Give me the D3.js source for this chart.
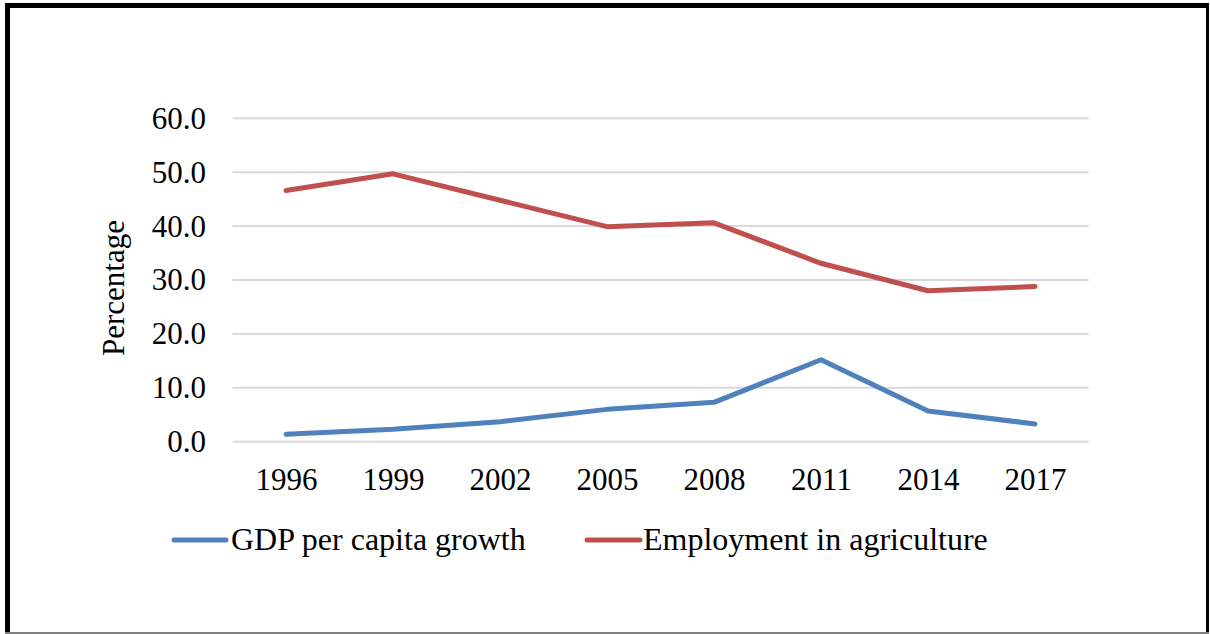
<!DOCTYPE html>
<html>
<head>
<meta charset="utf-8">
<script src="https://cdn.jsdelivr.net/npm/d3@7/dist/d3.min.js"></script>
<style>
  html, body { margin: 0; padding: 0; background: #fff; }
  svg { display: block; }
  text { font-family: "Liberation Serif", "Times New Roman", serif; fill: #000; }
</style>
</head>
<body>
<svg id="chart" width="1210" height="634"></svg>
<script>
// Survey years (x categories)
const years = ["1996", "1999", "2002", "2005", "2008", "2011", "2014", "2017"];
// GDP per capita growth (%)
const gdpGrowth = [1.4, 2.3, 3.7, 6.0, 7.3, 15.2, 5.7, 3.3];
// Employment in agriculture (% of total employment)
const agriEmployment = [46.6, 49.7, 44.8, 39.9, 40.6, 33.1, 28.0, 28.8];
// Y axis ticks
const yTicks = [0, 10, 20, 30, 40, 50, 60];
const seriesNames = ["GDP per capita growth", "Employment in agriculture"];

const series = [
  { name: seriesNames[0], values: gdpGrowth, color: "#4F81BD" },
  { name: seriesNames[1], values: agriEmployment, color: "#C0504D" }
];

const svg = d3.select("#chart");

// Frame around the chart
const frame = svg.append("g");
frame.append("line").attr("x1", 5).attr("x2", 1209).attr("y1", 5.5).attr("y2", 5.5)
  .attr("stroke", "#000").attr("stroke-width", 5);
frame.append("line").attr("x1", 7.5).attr("x2", 7.5).attr("y1", 3).attr("y2", 634)
  .attr("stroke", "#000").attr("stroke-width", 5);
frame.append("line").attr("x1", 1207.5).attr("x2", 1207.5).attr("y1", 3).attr("y2", 634)
  .attr("stroke", "#000").attr("stroke-width", 3);
frame.append("line").attr("x1", 5).attr("x2", 1209).attr("y1", 633).attr("y2", 633)
  .attr("stroke", "#808080").attr("stroke-width", 2);

const plotLeft = 232.5, plotRight = 1088.5;
const x = d3.scalePoint().domain(years).range([plotLeft, plotRight]).padding(0.5);
const y = d3.scaleLinear().domain([0, 60]).range([441.7, 118.3]);

// Horizontal gridlines
svg.append("g")
  .selectAll("line")
  .data(yTicks)
  .join("line")
  .attr("x1", plotLeft).attr("x2", plotRight)
  .attr("y1", d => y(d)).attr("y2", d => y(d))
  .attr("stroke", "#D9D9D9").attr("stroke-width", 2);

// Y axis labels
const yAxis = d3.axisLeft(y).tickValues(yTicks).tickFormat(d3.format(".1f")).tickSize(0).tickPadding(0);
const yg = svg.append("g").attr("transform", "translate(206,0)").call(yAxis);
yg.select(".domain").remove();
yg.selectAll("text").attr("font-size", 31).attr("font-family", "Liberation Serif").attr("fill", "#000");

// X axis labels
const xAxis = d3.axisBottom(x).tickSize(0).tickPadding(0);
const xg = svg.append("g").attr("transform", "translate(0,468)").call(xAxis);
xg.select(".domain").remove();
xg.selectAll("text").attr("font-size", 31).attr("font-family", "Liberation Serif").attr("fill", "#000");

// Y axis title
svg.append("text")
  .attr("transform", "translate(124,288) rotate(-90)")
  .attr("text-anchor", "middle")
  .attr("font-size", 31)
  .text("Percentage");

// Series lines
const line = d3.line().x((d, i) => x(years[i])).y(d => y(d));
svg.append("g")
  .selectAll("path")
  .data(series)
  .join("path")
  .attr("d", d => line(d.values))
  .attr("fill", "none")
  .attr("stroke", d => d.color)
  .attr("stroke-width", 5)
  .attr("stroke-linecap", "round")
  .attr("stroke-linejoin", "round");

// Legend
const legendItems = [
  { s: series[0], x0: 174, x1: 226, tx: 231 },
  { s: series[1], x0: 587, x1: 640, tx: 643 }
];
const lg = svg.append("g");
legendItems.forEach(it => {
  lg.append("line")
    .attr("x1", it.x0).attr("x2", it.x1).attr("y1", 540).attr("y2", 540)
    .attr("stroke", it.s.color).attr("stroke-width", 5).attr("stroke-linecap", "round");
  lg.append("text")
    .attr("x", it.tx).attr("y", 550)
    .attr("font-size", 32)
    .text(it.s.name);
});
</script>
</body>
</html>
